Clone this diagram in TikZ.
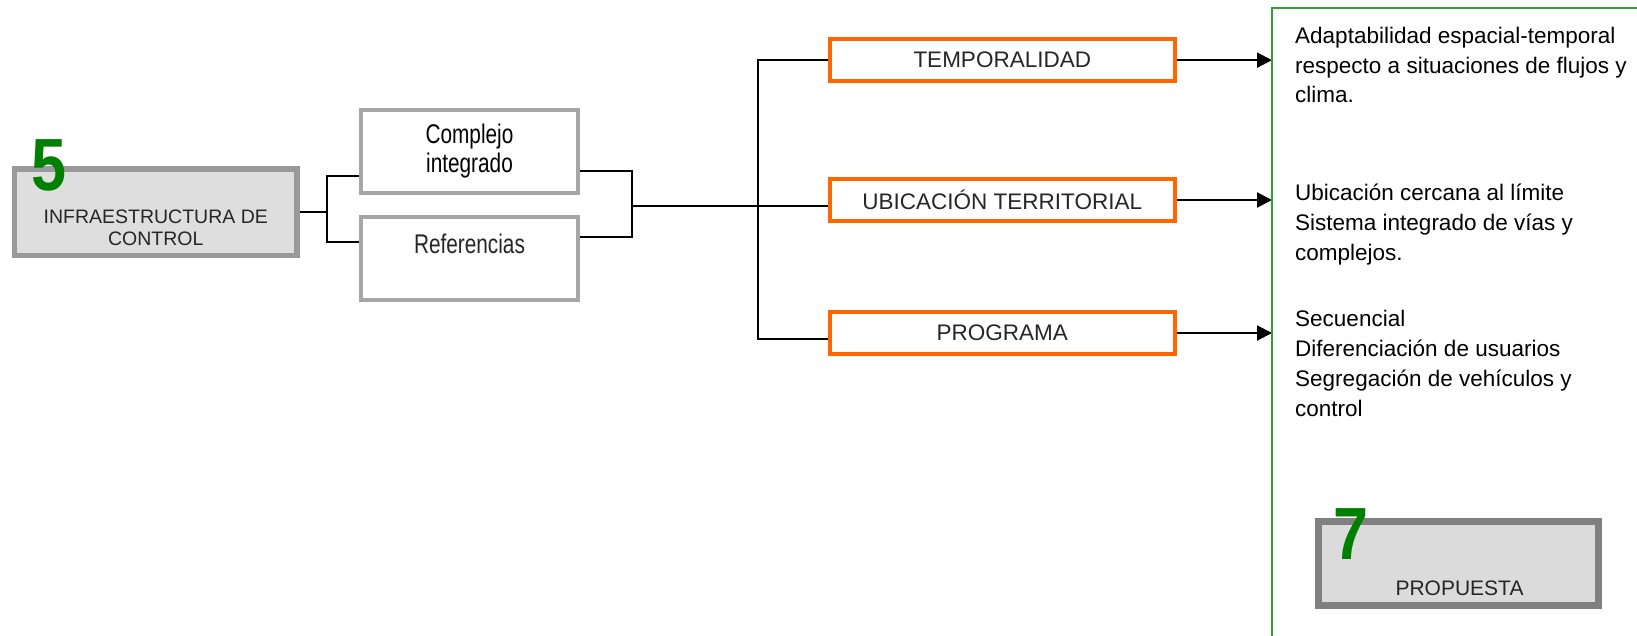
\documentclass[tikz,border=0pt]{standalone}
\usepackage{fontspec}
\setmainfont{Liberation Sans}
\newfontfamily\narrowfont[FakeStretch=0.77]{Liberation Sans}
\newfontfamily\numfont[FakeStretch=0.85]{Liberation Sans}
\usetikzlibrary{arrows.meta}

\definecolor{boxorange}{RGB}{255,102,0}
\definecolor{framegreen}{RGB}{51,160,51}
\definecolor{numgreen}{RGB}{0,128,0}

\begin{document}
\begin{tikzpicture}[x=1pt,y=-1pt,
    link/.style={line width=2pt},
    arr/.style={line width=2pt,-{Triangle[length=15pt,width=15pt]}},
    graybox/.style={draw=black!40,line width=5.5pt,fill=black!13,inner sep=0,
        minimum width=282.5pt,minimum height=86.5pt},
    propbox/.style={draw=black!50,line width=6.5pt,fill=black!14,inner sep=0,
        minimum width=280pt,minimum height=84pt},
    whitebox/.style={draw=black!35,line width=4pt,inner sep=0,align=center,
        minimum width=217pt,minimum height=83pt,
        font=\narrowfont\fontsize{27}{29}\selectfont},
    orangebox/.style={draw=boxorange,line width=4pt,inner sep=0,
        minimum width=345.5pt,minimum height=42pt,text=black!85,
        font=\fontsize{22.5}{27}\selectfont},
    captext/.style={inner sep=0,align=center,text=black!85},
    numtext/.style={inner sep=0,text=numgreen,
        font=\numfont\bfseries\fontsize{74}{80}\selectfont},
    desc/.style={anchor=base west,inner sep=0,align=left,
        font=\fontsize{22.5}{29.8}\selectfont}]

    \useasboundingbox (0,0) rectangle (1637,636);

    % left block
    \node[graybox] (infra) at (155.75,212.25) {};
    \node[captext,font=\fontsize{19.5}{22.3}\selectfont] (infratxt) at (155.75,228)
        {INFRAESTRUCTURA DE\\CONTROL};
    \node[numtext] (num5) at (49,165.5) {5};

    \node[whitebox] (compl) at (469.5,151.35) {Complejo\\integrado};
    \node[whitebox] (refs) at (469.5,258.35) {};
    \node[captext,font=\narrowfont\fontsize{27}{29}\selectfont] (refstxt) at (469.5,244)
        {Referencias};

    % middle block
    \node[orangebox] (temp) at (1002.25,60.15) {TEMPORALIDAD};
    \node[orangebox] (ubic) at (1002.25,200) {UBICACIÓN TERRITORIAL};
    \node[orangebox] (prog) at (1002.25,333) {PROGRAMA};

    \coordinate (lj) at (327,212.25);
    \coordinate (lt) at (327,175.7);
    \coordinate (lb) at (327,242.3);
    \coordinate (rt) at (632,171);
    \coordinate (rb) at (632,237.3);
    \coordinate (rm) at (632,206);
    \coordinate (bt) at (758,60.15);
    \coordinate (bb) at (758,338.5);
    \coordinate (gtop) at (1272,8.5);

    \draw[link] (infra.east) -- (lj);
    \draw[link] (compl.west |- lt) -- (lt) -- (lb) -- (refs.west |- lb);
    \draw[link] (compl.east |- rt) -- (rt) -- (rb) -- (refs.east |- rb);
    \draw[link] (rm) -- (ubic.west |- rm);
    \draw[link] (temp.west) -- (bt) -- (bb) -- (prog.west |- bb);

    \draw[arr] (temp.east) -- (temp.east -| gtop);
    \draw[arr] (ubic.east) -- (ubic.east -| gtop);
    \draw[arr] (prog.east) -- (prog.east -| gtop);

    % right block (base = last line)
    \draw[framegreen,line width=2pt] (1637,8.5) -- (gtop) -- (1272,636);

    \node[desc] (desc1) at (1295,103)
        {Adaptabilidad espacial-temporal\\respecto a situaciones de flujos y\\clima.};
    \node[desc] (desc2) at (1295,260)
        {Ubicación cercana al límite\\Sistema integrado de vías y\\complejos.};
    \node[desc] (desc3) at (1295,416)
        {Secuencial\\Diferenciación de usuarios\\Segregación de vehículos y\\control};

    \node[propbox] (prop) at (1458.3,563.5) {};
    \node[captext,font=\fontsize{21}{25}\selectfont] (proptxt) at (1459.5,587.8) {PROPUESTA};
    \node[numtext] (num7) at (1350.5,534) {7};

\end{tikzpicture}
\end{document}
